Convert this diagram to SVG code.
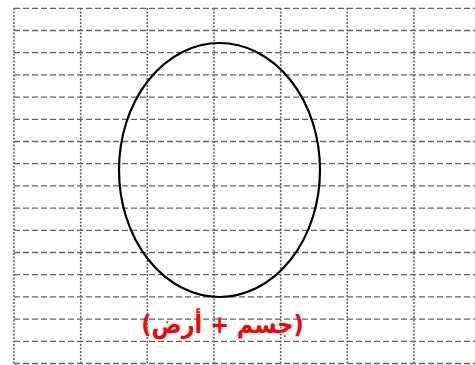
<svg xmlns="http://www.w3.org/2000/svg" width="475" height="365" viewBox="0 0 475 365">
<style>
.h{stroke:#666;stroke-width:1.3;stroke-dasharray:6,3;fill:none}
.v{stroke:#666;stroke-width:1.6;stroke-dasharray:2,1.5;fill:none}
.lbl{font-family:"DejaVu Sans",sans-serif;font-weight:bold;font-size:22.5px;fill:#ff0000}
</style>
<rect width="475" height="365" fill="#fff"/>
<g id="grid">
<path class="h" d="M14 8.3H475M14 30.5H475M14 52.7H475M14 74.9H475M14 97.1H475M14 119.3H475M14 141.5H475M14 163.7H475M14 185.9H475M14 208.1H475M14 230.3H475M14 252.5H475M14 274.7H475M14 296.9H475M14 319.1H475M14 341.3H475M14 363.5H475"/>
<path class="v" d="M14 8V365M80.7 8V365M147.3 8V365M214 8V365M280.7 8V365M347.3 8V365M414 8V365"/>
</g>
<g id="ellipse">
<ellipse cx="219.5" cy="170" rx="100.5" ry="127" fill="none" stroke="#000" stroke-width="2.2"/>
</g>
<g id="label">
<text class="lbl" x="222.5" y="297.3" transform="scale(1,1.12)" text-anchor="middle" direction="rtl">(جسم + أرض)</text>
</g>
</svg>
